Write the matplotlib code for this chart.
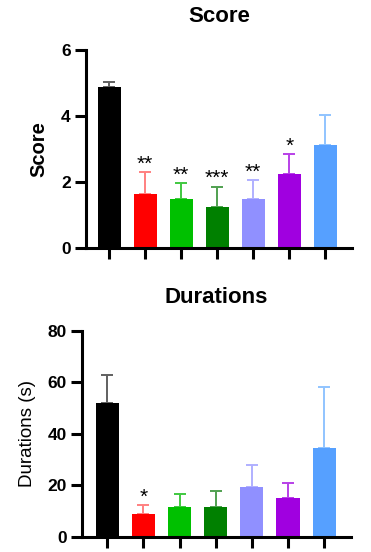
import matplotlib
matplotlib.use("Agg")
import matplotlib.pyplot as plt
import numpy as np

plt.rcParams['font.family'] = ['Liberation Sans', 'DejaVu Sans']

groups = ["G1", "G2", "G3", "G4", "G5", "G6", "G7"]
bar_colors = ["#000000", "#FF0000", "#00C000", "#008000", "#9090FF", "#A000E0", "#56A0FF"]
err_colors = ["#606060", "#FF8080", "#40C840", "#50A050", "#B0B0FF", "#B840E8", "#90C4FF"]

score_mean = [4.86, 1.63, 1.48, 1.23, 1.48, 2.23, 3.10]
score_err = [0.15, 0.66, 0.47, 0.62, 0.57, 0.60, 0.93]
score_sig = ["", "**", "**", "***", "**", "*", ""]

dur_mean = [52.0, 8.7, 11.5, 11.5, 19.3, 15.0, 34.5]
dur_err = [10.9, 3.6, 5.0, 6.4, 8.5, 5.8, 23.8]
dur_sig = ["", "*", "", "", "", "", ""]

fig = plt.figure(figsize=(3.71, 5.52), dpi=100)

def draw(ax, means, errs, sigs, ylim, yticks, title, ylabel, ylabel_bold, xlim, labelpad):
    x = np.arange(len(means))
    ax.bar(x, means, width=0.64, color=bar_colors, zorder=2)
    for i in range(len(means)):
        ax.errorbar(x[i], means[i], yerr=[[0], [errs[i]]], fmt='none',
                    ecolor=err_colors[i], elinewidth=1.4, capsize=4.3, capthick=1.4, zorder=1)
        if sigs[i]:
            ax.annotate(sigs[i], (x[i], means[i] + errs[i]), xytext=(0, -1),
                        textcoords='offset points', ha='center', va='bottom', fontsize=15)
    ax.set_xlim(*xlim)
    ax.set_ylim(*ylim)
    ax.set_yticks(yticks)
    ax.set_xticks(x)
    ax.set_xticklabels([])
    for s in ['top', 'right']:
        ax.spines[s].set_visible(False)
    for s in ['left', 'bottom']:
        ax.spines[s].set_linewidth(2.2)
    ax.tick_params(axis='both', length=8, width=2.2, direction='out')
    ax.tick_params(axis='y', labelsize=12.5, pad=3)
    for lab in ax.get_yticklabels():
        lab.set_fontweight('bold')
    ax.set_title(title, fontsize=16, fontweight='bold', pad=20)
    ax.set_ylabel(ylabel, fontsize=14.5 if ylabel_bold else 13.5,
                  fontweight='bold' if ylabel_bold else 'normal', labelpad=labelpad)

ax1 = fig.add_axes([0.2318, 0.5513, 0.717, 0.3587])
draw(ax1, score_mean, score_err, score_sig, (0, 6), [0, 2, 4, 6], "Score", "Score", True, (-0.64, 6.74), 9)

ax2 = fig.add_axes([0.221, 0.0277, 0.725, 0.3727])
draw(ax2, dur_mean, dur_err, dur_sig, (0, 80), [0, 20, 40, 60, 80], "Durations", "Durations (s)", False, (-0.70, 6.74), 8)

fig.savefig("out.png", dpi=100)
